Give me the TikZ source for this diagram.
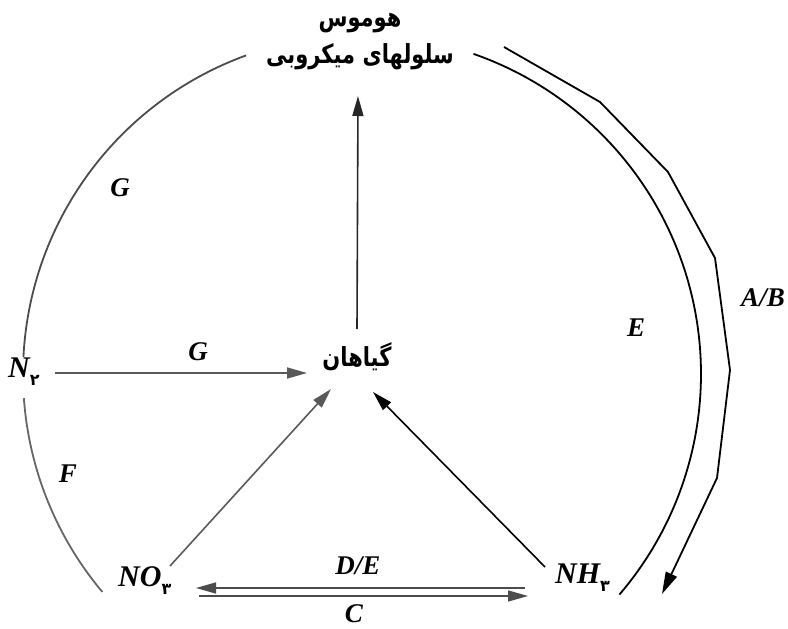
\documentclass[tikz,border=0pt]{standalone}
\usepackage{fontspec}
\setmainfont{Liberation Serif}
\newfontfamily\fa[Script=Arabic]{DejaVu Sans}
\TeXXeTstate=1
\usetikzlibrary{arrows.meta}
\newcommand{\pdig}[1]{\raisebox{-8pt}{\fa\upshape\bfseries\fontsize{16}{16}\selectfont #1}}
\newcommand{\tall}[1]{\scalebox{1}[1.25]{#1}}
\begin{document}
\begin{tikzpicture}[x=1pt,y=-1pt,
  lab/.style={font=\fontsize{27}{30}\selectfont\bfseries\itshape, inner sep=0pt},
  chem/.style={font=\fontsize{30}{32}\selectfont\bfseries\itshape, inner sep=0pt},
  per/.style={font=\fa\bfseries\fontsize{21}{26}\selectfont, inner sep=0pt},
  arr/.style={line width=1.6pt, -{Triangle[length=20pt,width=11pt]}},
  ring/.style={line width=1.8pt},
]
\useasboundingbox (0,0) rectangle (788,629);
\coordinate (c) at (362,374);

% texts
\node[per] (humus) at (360,23) {\tall{\beginR هوموس\endR}};
\node[per] (cells) at (360,57) {\tall{\beginR سلولهای میکروبی\endR}};
\node[per] (plants) at (357,357) {\tall{\beginR گیاهان\endR}};
\node[chem, anchor=west] (n2) at (8,372) {N\pdig{۲}};
\node[chem, anchor=west] (no3) at (118,581) {NO\pdig{۳}};
\node[chem, anchor=west] (nh3) at (555,578) {NH\pdig{۳}};

\node[lab] (gtop) at (120,188) {G};
\node[lab] (garr) at (198,352) {G};
\node[lab] (f) at (68,474) {F};
\node[lab] (e) at (636,328) {E};
\node[lab] (ab) at (763,298) {A/B};
\node[lab] (de) at (358,566) {D/E};
\node[lab] (cc) at (354,614) {C};

% connector end points
\coordinate (vA) at (357,329);
\coordinate (vB) at (358,96);
\coordinate (gA) at (55,373);
\coordinate (gB) at (307,373);
\coordinate (nA) at (170,566);
\coordinate (nB) at (331,389);
\coordinate (hA) at (545,567);
\coordinate (hB) at (373,392);
\coordinate (t1) at (525,588);
\coordinate (t2) at (196,588);
\coordinate (b1) at (199,596);
\coordinate (b2) at (528,596);

% arrows
\draw[arr, draw=black!85, fill=black!75] (vA) -- (vB);
\draw[arr, draw=black!65] (gA) -- (gB);
\draw[arr, draw=black!65] (nA) -- (nB);
\draw[arr, draw=black] (hA) -- (hB);
\draw[arr, draw=black!70, line width=1.4pt] (t1) -- (t2);
\draw[arr, draw=black!70, line width=1.4pt] (b1) -- (b2);

% circle arcs
\draw[ring, black!70] ([shift={(c)}]110:339pt) arc[start angle=110, end angle=177.1, radius=339pt];
\draw[ring, black!60] ([shift={(c)}]184.1:339pt) arc[start angle=184.1, end angle=220, radius=339pt];
\draw[ring, black] ([shift={(c)}]70.8:339pt) arc[start angle=70.8, end angle=-40.6, radius=339pt];

% outer polyline with arrow
\draw[ring, black, -{Triangle[length=22pt,width=12pt]}]
  (504,47) -- (600,102) -- (668,172) -- (715,258) -- (730,370) -- (717,478) -- (662,594);
\end{tikzpicture}
\end{document}
